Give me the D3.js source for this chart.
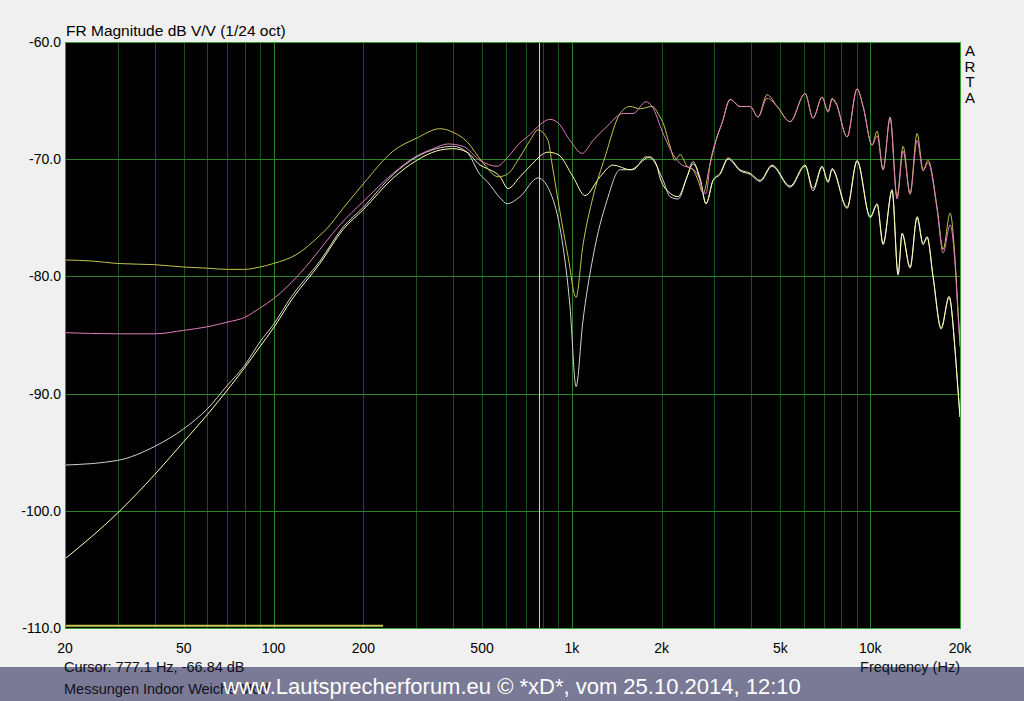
<!DOCTYPE html>
<html>
<head>
<meta charset="utf-8">
<script src="https://cdn.jsdelivr.net/npm/d3@7"></script>
<style>
  body { margin: 0; background: #f0f0f0; }
  svg { display: block; }
  text { font-family: "Liberation Sans", Arial, sans-serif; fill: #000; }
  .narrow { font-family: "Liberation Sans Narrow", "Liberation Sans", Arial, sans-serif; }
</style>
</head>
<body>
<div id="chart"></div>
<script>
// FR magnitude, four measurements (dB V/V vs Hz)
var oliveHz = [20,25,30,40,50,60,70,80,90,100,120,143,150,171,200,252,302,361,400,445,
  500,566,606,670,724,770,832,858,899,927,971,1033,1087,1178,1292,1451,1567,1693,1857,1975,
  2022,2134,2218,2305,2433,2549,2649,2754,2906,3067,3189,3392,3664,3958,4210,4512,4876,5389,6050,6435,
  6899,7226,7453,7686,8366,9038,9468,10148,10548,11048,11662,12305,12892,13607,14364,15044,15634,16760,17557,18531,
  19258,19709,20000];
var oliveDb = [-78.6,-78.7,-78.9,-79.0,-79.2,-79.3,-79.4,-79.4,-79.2,-78.9,-78.1,-76.5,-76.0,-74.2,-72.1,-69.3,-68.2,-67.4,-67.7,-68.5,
  -70.2,-71.5,-71.3,-69.8,-68.4,-67.5,-68.4,-70.4,-73.5,-75.5,-78.3,-81.8,-77.5,-73.2,-69.8,-66.1,-65.5,-65.7,-65.5,-66.4,
  -66.9,-68.9,-70.1,-69.6,-70.6,-70.9,-71.8,-72.9,-70.4,-68.1,-66.9,-64.9,-65.5,-65.5,-66.4,-64.5,-65.5,-66.8,-64.4,-66.5,
  -64.7,-65.9,-64.8,-65.2,-68.1,-64.0,-65.5,-68.8,-67.6,-70.9,-66.4,-73.2,-68.9,-72.9,-67.8,-70.9,-70.1,-74.1,-77.7,-74.6,
  -78.6,-83.0,-85.5];

var pinkHz = [20,30,40,50,60,70,80,90,100,115,132,143,167,200,252,294,343,385,432,492,
  561,611,670,724,770,845,899,986,1082,1178,1312,1485,1604,1772,1857,2022,2184,2341,2529,2690,
  2754,2818,2906,3067,3189,3392,3664,3958,4210,4512,4876,5389,6050,6435,6899,7226,7453,7686,8366,9038,
  9468,10148,10548,11048,11662,12305,12892,13607,14364,15044,15634,16760,17557,18531,19258,19709,20000];
var pinkDb = [-84.8,-84.9,-84.9,-84.6,-84.3,-83.9,-83.5,-82.7,-81.9,-80.5,-78.8,-77.7,-75.6,-73.6,-71.2,-69.9,-69.1,-68.7,-68.9,-70.1,
  -70.6,-69.8,-68.6,-67.9,-67.2,-66.6,-66.9,-68.4,-69.5,-68.4,-67.2,-66.1,-66.1,-65.1,-65.5,-67.8,-69.6,-70.5,-70.8,-71.8,
  -72.9,-72.9,-70.4,-68.1,-66.9,-64.9,-65.5,-65.5,-66.4,-64.8,-65.5,-66.8,-64.4,-66.5,-64.7,-66.0,-64.9,-65.3,-68.1,-64.0,
  -65.5,-68.8,-68.0,-70.9,-66.5,-73.4,-69.3,-73.0,-68.4,-71.0,-70.3,-74.3,-78.0,-75.6,-79.0,-83.4,-86.0];

var creamHz = [20,30,40,50,60,70,80,90,100,115,143,171,200,252,302,352,400,445,492,520,
  575,611,670,724,832,899,1009,1107,1243,1374,1567,1828,1930,1975,2134,2270,2433,2549,2690,2818,
  2974,3140,3340,3664,3958,4276,4690,5389,6050,6435,6899,7226,7453,8366,9038,10000,10548,11048,11843,12403,
  12792,13607,14364,15044,15514,16250,17287,18388,19258,19558,20000];
var creamDb = [-104.1,-100.2,-96.9,-94.1,-91.8,-89.7,-87.8,-86.0,-84.4,-82.0,-78.9,-76.0,-74.3,-71.6,-70.1,-69.3,-69.1,-69.4,-70.5,-70.8,
  -71.5,-72.5,-71.5,-70.6,-69.4,-69.6,-71.5,-73.1,-71.5,-70.5,-70.9,-69.8,-70.6,-71.6,-72.9,-73.2,-71.5,-70.4,-71.6,-73.8,
  -71.8,-71.2,-69.9,-70.9,-71.2,-71.8,-70.5,-72.3,-70.5,-72.5,-70.6,-71.9,-70.8,-74.1,-70.1,-74.9,-73.8,-77.2,-72.6,-79.8,
  -76.3,-79.2,-74.9,-77.2,-76.6,-80.0,-84.4,-81.7,-86.3,-88.6,-92.0];

var greyHz = [20,30,40,50,60,70,80,90,100,115,143,171,200,252,302,352,400,445,492,520,
  575,606,670,770,858,927,986,1033,1087,1178,1312,1451,1604,1772,1857,2022,2134,2270,2433,2549,
  2690,2818,2974,3140,3340,3664,3958,4276,4690,5389,6050,6435,6899,7226,7453,8366,9038,10000,10548,11048,
  11843,12403,12792,13607,14364,15044,15514,16250,17287,18388,19258,19558,20000];
var greyDb = [-96.1,-95.7,-94.5,-93.0,-91.3,-89.3,-87.6,-85.6,-84.1,-81.7,-78.7,-75.8,-74.1,-71.3,-69.8,-69.1,-68.9,-69.4,-71.3,-71.9,
  -73.3,-73.8,-73.2,-71.6,-73.2,-76.9,-82.6,-89.4,-84.0,-78.3,-73.5,-70.9,-70.9,-69.8,-70.0,-71.8,-73.2,-73.4,-71.5,-70.2,
  -71.8,-73.8,-71.8,-71.3,-70.0,-71.0,-71.3,-71.9,-70.6,-72.4,-70.6,-72.7,-70.7,-72.0,-70.9,-74.2,-70.2,-75.0,-73.9,-77.3,
  -72.7,-79.9,-76.4,-79.3,-75.0,-77.3,-76.7,-80.1,-84.5,-81.8,-86.4,-88.7,-92.0];

var floorHz = [20, 233];
var floorDb = [-109.8, -109.8];
var cursorHz = 777.1;

var xTicks = [20, 50, 100, 200, 500, 1000, 2000, 5000, 10000, 20000];
var xTickLabels = ["20", "50", "100", "200", "500", "1k", "2k", "5k", "10k", "20k"];
var yTicks = [-60, -70, -80, -90, -100, -110];

var W = 1024, H = 701;
var pL = 65, pR = 960, pT = 42, pB = 628;

var x = d3.scaleLog().domain([20, 20000]).range([pL, pR]);
var y = d3.scaleLinear().domain([-110, -60]).range([pB, pT]);

var svg = d3.select("#chart").append("svg")
    .attr("width", W)
    .attr("height", H);

svg.append("rect")
    .attr("x", pL).attr("y", pT)
    .attr("width", pR - pL).attr("height", pB - pT)
    .attr("fill", "#000");

svg.append("clipPath").attr("id", "plot")
  .append("rect")
    .attr("x", pL).attr("y", pT)
    .attr("width", pR - pL).attr("height", pB - pT);

// grid drawn as 1px rects so the colours stay exact
var minor = [];
[10, 100, 1000].forEach(function(dec){
    for (var k = 2; k <= 9; k++) {
        var f = k * dec;
        if (f > 20 && f < 20000) minor.push(f);
    }
});
var major = [100, 1000, 10000];

var grid = svg.append("g").attr("shape-rendering", "crispEdges");
grid.selectAll("rect.minor")
    .data(minor)
    .enter().append("rect")
    .attr("class", "minor")
    .attr("x", function(d){ return Math.round(x(d)); })
    .attr("y", pT).attr("width", 1).attr("height", pB - pT)
    .attr("fill", "#1b4e1b");
grid.selectAll("rect.major")
    .data(major)
    .enter().append("rect")
    .attr("class", "major")
    .attr("x", function(d){ return Math.round(x(d)); })
    .attr("y", pT).attr("width", 1).attr("height", pB - pT)
    .attr("fill", "#2d832d");
grid.selectAll("rect.h")
    .data(yTicks.slice(1, -1))
    .enter().append("rect")
    .attr("class", "h")
    .attr("x", pL).attr("width", pR - pL)
    .attr("y", function(d){ return Math.round(y(d)); })
    .attr("height", 1)
    .attr("fill", "#2d832d");

var plot = svg.append("g").attr("clip-path", "url(#plot)");

var line = d3.line()
    .x(function(d){ return x(d[0]); })
    .y(function(d){ return y(d[1]); })
    .curve(d3.curveMonotoneX);

function pairs(hz, db) {
    return hz.map(function(f, i){ return [f, db[i]]; });
}

var series = [
    { hz: floorHz, db: floorDb, color: "#c8c850", w: 2 },
    { hz: greyHz, db: greyDb, color: "#d2d2d2", w: 1 },
    { hz: creamHz, db: creamDb, color: "#ffffb0", w: 1 },
    { hz: oliveHz, db: oliveDb, color: "#c4c44c", w: 1 },
    { hz: pinkHz, db: pinkDb, color: "#e07cbc", w: 1 }
];

plot.selectAll("path.trace")
    .data(series)
    .enter().append("path")
    .attr("class", "trace")
    .attr("d", function(s){ return line(pairs(s.hz, s.db)); })
    .attr("fill", "none")
    .attr("stroke", function(s){ return s.color; })
    .attr("stroke-width", function(s){ return s.w; });

// cursor
plot.append("rect")
    .attr("x", Math.round(x(cursorHz)))
    .attr("y", pT).attr("width", 1).attr("height", pB - pT)
    .attr("fill", "#d8d860")
    .attr("shape-rendering", "crispEdges");

// frame
var frame = svg.append("g").attr("fill", "#34a034").attr("shape-rendering", "crispEdges");
frame.append("rect").attr("x", pL).attr("y", pT).attr("width", pR - pL + 1).attr("height", 1);
frame.append("rect").attr("x", pL).attr("y", pB).attr("width", pR - pL + 1).attr("height", 1);
frame.append("rect").attr("x", pL).attr("y", pT).attr("width", 1).attr("height", pB - pT + 1);
frame.append("rect").attr("x", pR).attr("y", pT).attr("width", 1).attr("height", pB - pT + 1);

// axis labels
svg.selectAll("text.ylab")
    .data(yTicks)
    .enter().append("text")
    .attr("class", "ylab")
    .attr("x", 61)
    .attr("y", function(d){ return y(d) + 5; })
    .attr("text-anchor", "end")
    .style("font-size", "14px")
    .text(function(d){ return d.toFixed(1); });

svg.selectAll("text.xlab")
    .data(xTicks)
    .enter().append("text")
    .attr("class", "xlab narrow")
    .attr("x", function(d){ return x(d); })
    .attr("y", 653)
    .attr("text-anchor", "middle")
    .style("font-size", "14px")
    .text(function(d, i){ return xTickLabels[i]; });

svg.append("text")
    .attr("x", 66).attr("y", 36)
    .style("font-size", "15.5px")
    .text("FR Magnitude dB V/V (1/24 oct)");

svg.selectAll("text.arta")
    .data(["A", "R", "T", "A"])
    .enter().append("text")
    .attr("class", "arta")
    .attr("x", 970)
    .attr("y", function(d, i){ return 56 + i * 15.5; })
    .attr("text-anchor", "middle")
    .style("font-size", "15px")
    .text(function(d){ return d; });

// watermark band
svg.append("rect")
    .attr("x", 0).attr("y", 667)
    .attr("width", W).attr("height", H - 667)
    .attr("fill", "#7a7a96");

svg.append("text")
    .attr("class", "narrow")
    .attr("x", 64).attr("y", 672)
    .style("font-size", "14.5px")
    .style("fill", "#101020")
    .text("Cursor: 777.1 Hz, -66.84 dB");

svg.append("text")
    .attr("class", "narrow")
    .attr("x", 64).attr("y", 694)
    .style("font-size", "14.5px")
    .style("fill", "#101020")
    .text("Messungen Indoor Weiche Mod");

svg.append("text")
    .attr("class", "narrow")
    .attr("x", 960).attr("y", 672)
    .attr("text-anchor", "end")
    .style("font-size", "14.5px")
    .style("fill", "#101020")
    .text("Frequency (Hz)");

svg.append("text")
    .attr("x", 512).attr("y", 694)
    .attr("text-anchor", "middle")
    .style("font-size", "22px")
    .style("fill", "#ffffff")
    .text("www.Lautsprecherforum.eu \u00a9 *xD*, vom 25.10.2014, 12:10");
</script>
</body>
</html>
